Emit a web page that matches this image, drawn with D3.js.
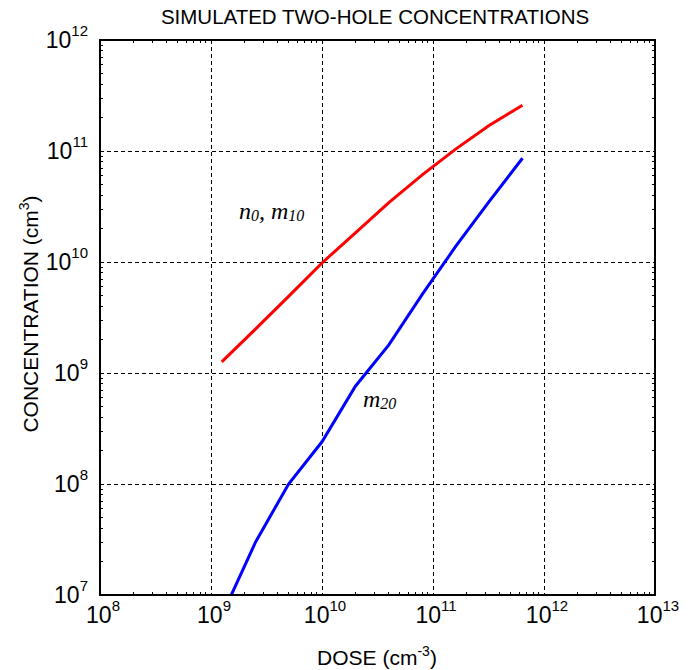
<!DOCTYPE html>
<html>
<head>
<meta charset="utf-8">
<script src="https://cdn.jsdelivr.net/npm/d3@7"></script>
<style>
  html, body { margin: 0; padding: 0; background: #fff; }
  svg { display: block; }
</style>
</head>
<body>
<div id="chart"></div>
<script>
// Simulated two-hole concentrations vs dose (log-log)

const xTickExps = [8, 9, 10, 11, 12, 13];
const yTickExps = [7, 8, 9, 10, 11, 12];

// red curve: n0, m10
const redDose = [1.25e9, 2.5e9, 5e9, 1e10, 2e10, 4e10, 8e10, 1.6e11, 3.2e11, 6.4e11];
const redConc = [1.26e9, 2.47e9, 4.9e9, 9.8e9, 1.83e10, 3.42e10, 6.1e10, 1.04e11, 1.7e11, 2.58e11];

// blue curve: m20
const blueDose = [1.25e9, 2.5e9, 5e9, 1e10, 2e10, 4e10, 8e10, 1.6e11, 3.2e11, 6.4e11];
const blueConc = [6.5e6, 2.95e7, 1.0e8, 2.4e8, 7.6e8, 1.79e9, 5.1e9, 1.38e10, 3.5e10, 8.6e10];

const W = 690, H = 670;
const M = { top: 40, right: 35, bottom: 75, left: 100 };
const iW = W - M.left - M.right;   // 555
const iH = H - M.top - M.bottom;   // 555

const svg = d3.select('#chart').append('svg')
    .attr('width', W).attr('height', H)
    .style('background', '#fff');

const g = svg.append('g').attr('transform', `translate(${M.left},${M.top})`);

const x = d3.scaleLog().domain([1e8, 1e13]).range([0, iW]);
const y = d3.scaleLog().domain([1e7, 1e12]).range([iH, 0]);

// Grid (dashed) at inner decades
g.append('g').selectAll('line')
    .data(xTickExps.slice(1, -1)).enter().append('line')
    .attr('x1', d => Math.round(x(Math.pow(10, d))) + 0.5).attr('x2', d => Math.round(x(Math.pow(10, d))) + 0.5)
    .attr('y1', 0).attr('y2', iH)
    .attr('stroke', '#000').attr('stroke-width', 1).attr('stroke-dasharray', '4,3');

g.append('g').selectAll('line')
    .data(yTickExps.slice(1, -1)).enter().append('line')
    .attr('y1', d => Math.round(y(Math.pow(10, d))) + 0.5).attr('y2', d => Math.round(y(Math.pow(10, d))) + 0.5)
    .attr('x1', 0).attr('x2', iW)
    .attr('stroke', '#000').attr('stroke-width', 1).attr('stroke-dasharray', '4,3');

// Minor ticks, inside, all four sides
const xMinor = x.ticks().filter(v => Math.abs(Math.log10(v) % 1) > 1e-6);
const yMinor = y.ticks().filter(v => Math.abs(Math.log10(v) % 1) > 1e-6);
const tk = 3;
const ticks = g.append('g').attr('stroke', '#000').attr('stroke-width', 1)
    .attr('shape-rendering', 'crispEdges');
xMinor.forEach(v => {
    ticks.append('line').attr('x1', x(v)).attr('x2', x(v)).attr('y1', iH).attr('y2', iH - tk);
    ticks.append('line').attr('x1', x(v)).attr('x2', x(v)).attr('y1', 0).attr('y2', tk);
});
yMinor.forEach(v => {
    ticks.append('line').attr('y1', y(v)).attr('y2', y(v)).attr('x1', 0).attr('x2', tk);
    ticks.append('line').attr('y1', y(v)).attr('y2', y(v)).attr('x1', iW).attr('x2', iW - tk);
});

// Clip for the curves
svg.append('defs').append('clipPath').attr('id', 'plotclip')
    .append('rect').attr('width', iW).attr('height', iH);

const line = d3.line().x(d => x(d[0])).y(d => y(d[1]));
const plot = g.append('g').attr('clip-path', 'url(#plotclip)');

plot.append('path')
    .datum(redDose.map((d, i) => [d, redConc[i]]))
    .attr('d', line).attr('fill', 'none')
    .attr('stroke', '#ff0000').attr('stroke-width', 3);

plot.append('path')
    .datum(blueDose.map((d, i) => [d, blueConc[i]]))
    .attr('d', line).attr('fill', 'none')
    .attr('stroke', '#0000ff').attr('stroke-width', 3);

// Frame
g.append('rect').attr('width', iW).attr('height', iH)
    .attr('fill', 'none').attr('stroke', '#000').attr('stroke-width', 2);

// Tick labels: 10 with superscript exponent
const font = 'Arial, "Liberation Sans", Helvetica, sans-serif';
xTickExps.forEach(e => {
    const t = g.append('text')
        .attr('x', x(Math.pow(10, e)) + 3).attr('y', iH + 28)
        .attr('text-anchor', 'middle')
        .attr('font-family', font).attr('font-size', 23).attr('fill', '#000');
    t.append('tspan').text('10');
    t.append('tspan').attr('font-size', 15).attr('dy', -12).text(e);
});
yTickExps.forEach(e => {
    const t = g.append('text')
        .attr('x', -12).attr('y', y(Math.pow(10, e)) + 8)
        .attr('text-anchor', 'end')
        .attr('font-family', font).attr('font-size', 23).attr('fill', '#000');
    t.append('tspan').text('10');
    t.append('tspan').attr('font-size', 15).attr('dy', -12).text(e);
});

// Title
svg.append('text').attr('x', 375).attr('y', 24)
    .attr('text-anchor', 'middle').attr('font-family', font).attr('font-size', 20.5)
    .text('SIMULATED TWO-HOLE CONCENTRATIONS');

// Axis titles
const xt = svg.append('text').attr('x', 377).attr('y', 665)
    .attr('text-anchor', 'middle').attr('font-family', font).attr('font-size', 21);
xt.append('tspan').text('DOSE (cm');
xt.append('tspan').attr('font-size', 14).attr('dy', -9).text('-3');
xt.append('tspan').attr('dy', 9).text(')');

const yt = svg.append('text')
    .attr('transform', 'translate(38,314) rotate(-90)')
    .attr('text-anchor', 'middle').attr('font-family', font).attr('font-size', 21);
yt.append('tspan').text('CONCENTRATION (cm');
yt.append('tspan').attr('font-size', 14).attr('dy', -9).text('3');
yt.append('tspan').attr('dy', 9).text(')');

// Curve labels (italic serif with subscripts)
const serif = '"Liberation Serif", "Times New Roman", Times, serif';
const l1 = svg.append('text').attr('x', 239).attr('y', 219)
    .attr('font-family', serif).attr('font-style', 'italic').attr('font-size', 24);
l1.append('tspan').text('n');
l1.append('tspan').attr('font-size', 16).attr('dy', 2).text('0');
l1.append('tspan').attr('dy', -2).text(', m');
l1.append('tspan').attr('font-size', 16).attr('dy', 2).text('10');

const l2 = svg.append('text').attr('x', 363).attr('y', 407)
    .attr('font-family', serif).attr('font-style', 'italic').attr('font-size', 24);
l2.append('tspan').text('m');
l2.append('tspan').attr('font-size', 16).attr('dy', 2).text('20');
</script>
</body>
</html>
